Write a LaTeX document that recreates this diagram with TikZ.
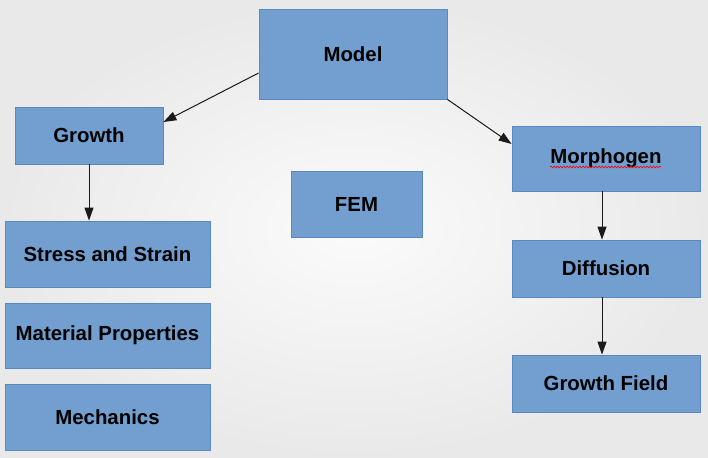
\documentclass[tikz,border=0pt]{standalone}
\usepackage{fontspec}
\setmainfont{Liberation Sans}
\usetikzlibrary{arrows.meta,decorations.pathmorphing}
\definecolor{boxfill}{HTML}{729FCF}
\definecolor{boxline}{HTML}{5A88C0}
\definecolor{bgout}{HTML}{E9E9E9}
\definecolor{bgin}{HTML}{FBFBFB}
\definecolor{arr}{HTML}{1A1A1A}
\tikzset{
  box/.style={draw=boxline, fill=boxfill, line width=0.8pt, inner sep=0pt,
    font=\fontsize{20.4pt}{24pt}\selectfont\bfseries, text=black},
  conn/.style={draw=arr, line width=1pt, -{Triangle[length=13pt,width=9pt]}}
}
\begin{document}
\begin{tikzpicture}[x=1pt,y=-1pt]
\shade[inner color=bgin, outer color=bgout] (0,0) rectangle (708,457);
\useasboundingbox (0,0) rectangle (708,457);
\node[box, minimum width=188pt, minimum height=90pt] (model) at (353,54) {Model};
\node[box, minimum width=148pt, minimum height=57pt] (growth) at (89,135.5) {Growth};
\node[box, minimum width=131pt, minimum height=66pt] (fem) at (356.5,204) {FEM};
\node[box, minimum width=205pt, minimum height=66pt] (stress) at (107.5,254) {Stress and Strain};
\node[box, minimum width=205pt, minimum height=65pt] (material) at (107.5,335.5) {Material Properties};
\node[box, minimum width=205pt, minimum height=66pt] (mech) at (107.5,417) {Mechanics};
\node[box, minimum width=188pt, minimum height=65pt] (morph) at (606,158.5) {Morphogen};
\node[box, minimum width=188pt, minimum height=57pt] (diff) at (606,268.5) {Diffusion};
\node[box, minimum width=188pt, minimum height=57pt] (gfield) at (606,383.5) {Growth Field};
\draw[red, line width=0.6pt, decorate, decoration={snake, amplitude=0.9pt, segment length=3.2pt}]
  (550,167) -- (661,167);
\draw[conn] ([yshift=-19pt]model.west) -- ([yshift=13.5pt]growth.east);
\draw[conn] (model.south east) -- ([yshift=14.5pt]morph.west);
\draw[conn] (growth.south) -- (growth.south |- stress.north);
\draw[conn] ([xshift=-4pt]morph.south) -- ([xshift=-4pt]morph.south |- diff.north);
\draw[conn] ([xshift=-4pt]diff.south) -- ([xshift=-4pt]diff.south |- gfield.north);
\end{tikzpicture}
\end{document}
